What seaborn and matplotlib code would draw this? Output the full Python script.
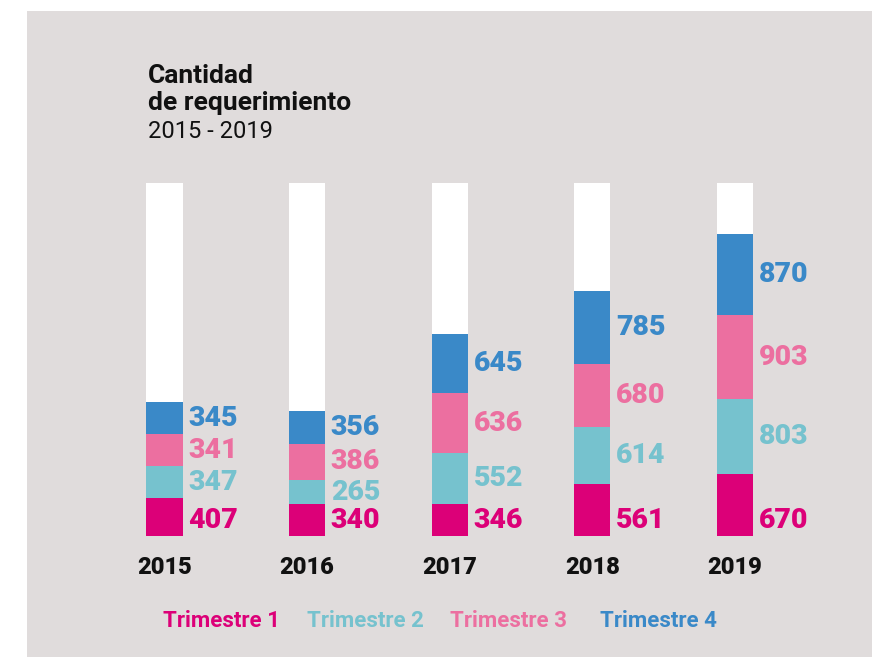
import numpy as np
import pandas as pd
import seaborn as sns
import matplotlib.pyplot as plt
from matplotlib.patches import Rectangle
from matplotlib.transforms import blended_transform_factory

# Data
years = ['2015', '2016', '2017', '2018', '2019']
trim1 = [407, 340, 346, 561, 670]
trim2 = [347, 265, 552, 614, 803]
trim3 = [341, 386, 636, 680, 903]
trim4 = [345, 356, 645, 785, 870]
series_names = ['Trimestre 1', 'Trimestre 2', 'Trimestre 3', 'Trimestre 4']
colors = ['#dc0078', '#76c2ce', '#ec6fa0', '#3a89c8']
y_max = 3800

sns.set_theme(style='white')
plt.rcParams['font.family'] = ['Roboto', 'DejaVu Sans']

series = [trim1, trim2, trim3, trim4]
cum = np.cumsum(np.array(series), axis=0)
df = pd.DataFrame({'year': years})
for name, c in zip(series_names, cum):
    df[name] = c

W, H = 872, 657
fig = plt.figure(figsize=(W / 100, H / 100), dpi=100)
fig.patch.set_facecolor('white')
fig.patches.append(Rectangle((27 / W, 0), 1 - 27 / W, 1 - 11 / H, transform=fig.transFigure,
                             facecolor='#e0dcdc', edgecolor='none', zorder=-10))

ax = fig.add_axes([93.2 / W, (H - 536) / H, 713 / W, 353 / H])
ax.set_facecolor('none')

bw = 0.2525
# white background columns
sns.barplot(x=years, y=[y_max] * len(years), color='white', width=bw, ax=ax,
            saturation=1, linewidth=0, zorder=1)
# stacked segments, drawn from the top cumulative down
for name, col in reversed(list(zip(series_names, colors))):
    sns.barplot(data=df, x='year', y=name, color=col, width=bw, ax=ax,
                saturation=1, linewidth=0, zorder=2)

ax.set_xlim(-0.5, 4.5)
ax.set_ylim(0, y_max)
ax.set_xlabel('')
ax.set_ylabel('')
ax.set_xticks([])
ax.set_yticks([])
for s in ax.spines.values():
    s.set_visible(False)

# value labels
for i in range(len(years)):
    xl = i + bw / 2 + 0.04
    base = 0
    for k, (vals, col) in enumerate(zip(series, colors)):
        v = vals[i]
        if k == 0:
            ax.annotate(str(v), (xl, 0), xytext=(0, 6), textcoords='offset points',
                        ha='left', va='baseline', color=col, fontsize=20.5,
                        fontweight='black')
        else:
            ax.text(xl, base + v / 2, str(v), ha='left', va='center', color=col,
                    fontsize=20.5, fontweight='black')
        base += v

# year labels
tr = blended_transform_factory(ax.transData, ax.transAxes)
for i, y in enumerate(years):
    ax.text(i, -32 / 353, y, transform=tr, ha='center', va='center',
            fontsize=17, fontweight='black', color='#111111')

# title
fig.text(148 / W, 1 - 83 / H, 'Cantidad', fontsize=19, fontweight='bold',
         va='baseline', color='#111111')
fig.text(148 / W, 1 - 110 / H, 'de requerimiento', fontsize=19, fontweight='bold',
         va='baseline', color='#111111')
fig.text(148 / W, 1 - 138 / H, '2015 - 2019', fontsize=17, va='baseline',
         color='#111111')

# legend as coloured text
leg_x = [163, 307, 450, 600]
for name, col, lx in zip(series_names, colors, leg_x):
    fig.text(lx / W, 1 - 621 / H, name, fontsize=16, fontweight='bold',
             color=col, va='center', ha='left')

fig.savefig('out.png', dpi=100)
